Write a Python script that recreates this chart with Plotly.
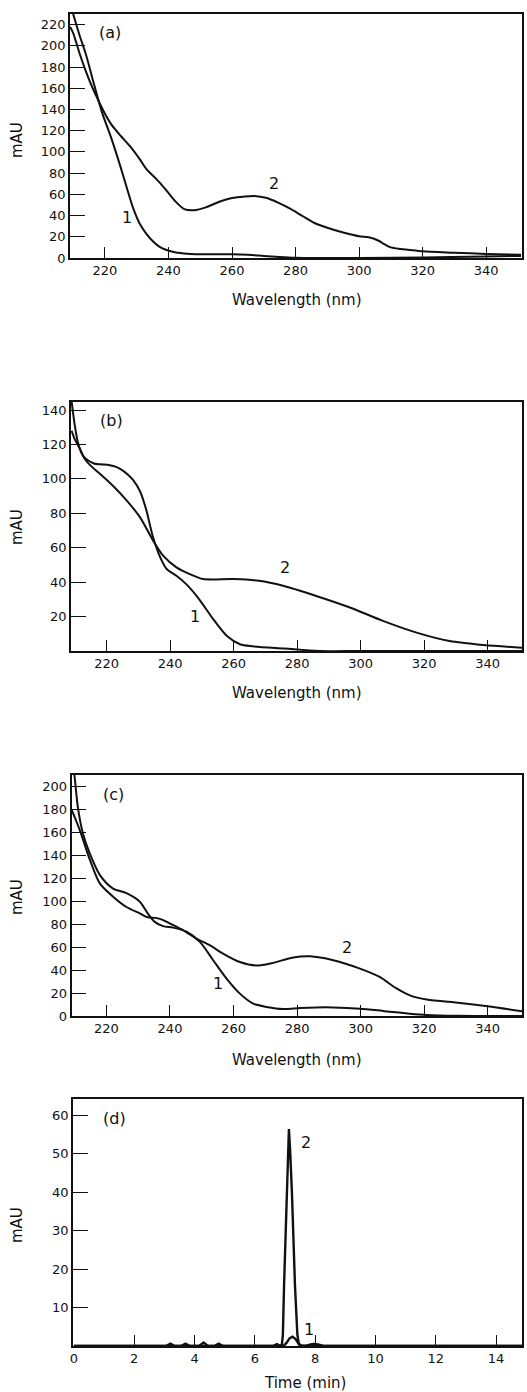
import plotly.graph_objects as go

# ---------------- data ----------------
# Panel (a)
a_wl_1 = [209, 210, 212, 214, 216, 219, 222, 225, 227, 229, 231, 233, 235, 237, 239, 242, 246, 250, 255, 260, 265, 270, 275, 280, 290, 300, 320, 340, 351]
a_mau_1 = [240, 230, 210, 192, 170, 138, 113, 85, 65, 46, 32, 23, 16, 11, 8, 5.5, 4, 3.5, 3.5, 3.5, 3, 2, 1, 0.3, 0, 0, 0.5, 1.5, 2]
a_wl_2 = [209, 210, 212, 214, 216, 218, 220, 222, 225, 228, 231, 233, 236, 239, 242, 245, 248, 252, 256, 260, 264, 267, 271, 275, 278, 282, 286, 290, 295, 300, 303, 306, 308, 310, 313, 316, 320, 330, 340, 351]
a_mau_2 = [218, 212, 193, 176, 161, 148, 136, 126, 115, 105, 93, 84, 75, 65, 54, 46, 45, 48, 53, 56.5, 58, 58.5, 56.5, 51.5, 47, 40, 33, 28.5, 24, 20.5, 19.5, 16.5, 13, 10, 8.5, 7.5, 6.3, 5, 3.8, 3]

# Panel (b)
b_wl_1 = [209, 210, 211, 212, 213, 214, 216, 218, 221, 223, 225, 227, 228.5, 230.5, 232.5, 234.5, 237, 239, 242, 245, 249, 253.5, 258, 262, 266, 276, 287, 300, 320, 340, 351]
b_mau_1 = [145, 131, 121, 115.5, 112.5, 111, 109, 108.5, 108, 107, 105, 102, 99, 93, 82, 67, 54, 47.5, 43.7, 39, 30.5, 18.7, 8.5, 3.9, 2.7, 1.4, 0, 0, 0, 0, 0]
b_wl_2 = [209, 210, 211.6, 213, 214.8, 217.9, 222, 226.3, 230.5, 234.7, 237.8, 242, 246.2, 250.4, 260, 268, 275.6, 286, 296.6, 307, 317.6, 328, 338.6, 351]
b_mau_2 = [128, 123, 117.6, 112, 108, 103, 96, 87.5, 77.8, 64, 55.4, 48.6, 44.7, 41.8, 41.8, 40.8, 37.9, 32, 25.3, 17.5, 10.7, 5.8, 3.5, 1.9]

# Panel (c)
c_wl_1 = [209, 210, 211, 212.6, 214.7, 217.9, 222.1, 226.3, 230.5, 233.1, 235.2, 237.8, 241, 245.2, 249.4, 253.6, 257.8, 262, 266.2, 270.4, 275.6, 280.9, 286, 291.4, 299.8, 307.1, 315.5, 320.8, 330, 351]
c_mau_1 = [230, 208, 182, 159, 142, 123, 111, 107, 99.6, 89, 82, 78.3, 77, 73.4, 64.6, 48.6, 32.6, 19.5, 10.8, 7.9, 6.1, 7, 7.5, 7.5, 6.4, 4.4, 2, 0.9, 0.2, 0]
c_wl_2 = [209, 211.6, 214.8, 217.9, 222.1, 226.3, 230.5, 233, 235.5, 237.5, 240, 244.1, 248.3, 252.5, 256.7, 262, 267.2, 272, 278.8, 284, 291.4, 299.8, 306, 311.3, 315.5, 320.8, 331.3, 340, 351]
c_mau_2 = [180, 162, 136, 115.6, 104, 95, 89.4, 86, 85.5, 84, 80.6, 74.8, 67.5, 61.7, 54.4, 47, 44, 46, 51, 52, 48.6, 41.3, 34, 24, 18, 14.3, 11.4, 8.4, 4]

# Panel (d)
d_t_1 = [0, 3.05, 3.2, 3.35, 3.55, 3.7, 3.85, 4.15, 4.3, 4.45, 4.65, 4.8, 4.95, 6.6, 6.73, 6.85, 6.95, 7.05, 7.15, 7.25, 7.35, 7.45, 7.55, 7.7, 7.85, 7.95, 8.1, 8.25, 8.4, 15]
d_mau_1 = [0, 0, 0.6, 0, 0, 0.6, 0, 0, 0.9, 0, 0, 0.6, 0, 0, 0.5, 0, 0, 0.8, 2.0, 2.4, 1.8, 0.6, 0.1, 0.1, 0.4, 0.5, 0.4, 0.1, 0, 0]
d_t_2 = [0, 6.85, 6.9, 6.93, 6.97, 7.06, 7.09, 7.13, 7.17, 7.23, 7.33, 7.41, 7.46, 7.5, 15]
d_mau_2 = [0, 0, 0.5, 3, 16, 40, 51, 56.5, 51, 40, 16, 3, 0.5, 0, 0]

wl_ticks = [220, 240, 260, 280, 300, 320, 340]
a_yticks = [0, 20, 40, 60, 80, 100, 120, 140, 160, 180, 200, 220]
b_yticks = [20, 40, 60, 80, 100, 120, 140]
c_yticks = [0, 20, 40, 60, 80, 100, 120, 140, 160, 180, 200]
d_xticks = [0, 2, 4, 6, 8, 10, 12, 14]
d_yticks = [10, 20, 30, 40, 50, 60]

# ---------------- figure ----------------
W, H = 527, 1392
FONT = "DejaVu Sans"
LC = "#111111"

def py(px):
    return 1 - px / H

fig = go.Figure()

panels = [
    dict(s1=(a_wl_1, a_mau_1), s2=(a_wl_2, a_mau_2), ax="", dx=(70, 522), dy=(14, 258), xr=[209, 351.3], yr=[0, 230], xt=wl_ticks, yt=a_yticks, lw=2.0, shape="spline"),
    dict(s1=(b_wl_1, b_mau_1), s2=(b_wl_2, b_mau_2), ax="2", dx=(71, 522), dy=(402, 651), xr=[208.8, 350.8], yr=[0, 144.7], xt=wl_ticks, yt=b_yticks, lw=2.0, shape="spline"),
    dict(s1=(c_wl_1, c_mau_1), s2=(c_wl_2, c_mau_2), ax="3", dx=(71.5, 522), dy=(775, 1016), xr=[209, 350.8], yr=[0, 210], xt=wl_ticks, yt=c_yticks, lw=2.0, shape="spline"),
    dict(s1=(d_t_1, d_mau_1), s2=(d_t_2, d_mau_2), ax="4", dx=(73, 522), dy=(1099, 1346), xr=[-0.03, 14.86], yr=[0, 64.3], xt=d_xticks, yt=d_yticks, lw=2.4, shape="linear"),
]

for p in panels:
    xa = "x" + p["ax"]
    ya = "y" + p["ax"]
    for (xs, ys) in (p["s1"], p["s2"]):
        fig.add_trace(go.Scatter(x=xs, y=ys, mode="lines", xaxis=xa, yaxis=ya,
                                 line=dict(color=LC, width=p["lw"], shape=p["shape"], smoothing=0.8),
                                 showlegend=False, hoverinfo="skip", cliponaxis=True))
    axis_common = dict(showgrid=False, zeroline=False, showline=True, linecolor=LC, linewidth=1.6,
                       mirror=True, ticks="inside", tickcolor=LC, tickwidth=1.4,
                       tickfont=dict(family=FONT, size=13, color=LC), automargin=False)
    fig.update_layout(**{
        "xaxis" + p["ax"]: dict(axis_common, domain=[p["dx"][0] / W, p["dx"][1] / W], range=p["xr"],
                                tickvals=p["xt"], ticklen=11, anchor=ya),
        "yaxis" + p["ax"]: dict(axis_common, domain=[py(p["dy"][1]), py(p["dy"][0])], range=p["yr"],
                                tickvals=p["yt"], ticklen=15, anchor=xa),
    })

annots = []
def ann(text, x, y, xref, yref, size=16, angle=0):
    annots.append(dict(text=text, x=x, y=y, xref=xref, yref=yref, showarrow=False,
                       font=dict(family=FONT, size=size, color=LC), textangle=angle,
                       xanchor="center", yanchor="middle"))

# panel letters and curve labels
ann("(a)", 221.6, 213, "x", "y")
ann("1", 226.8, 38, "x", "y")
ann("2", 273.2, 70, "x", "y")
ann("(b)", 221.6, 134, "x2", "y2")
ann("1", 247.8, 19.8, "x2", "y2")
ann("2", 276.2, 48.6, "x2", "y2")
ann("(c)", 222.1, 192.7, "x3", "y3")
ann("1", 255.2, 28, "x3", "y3")
ann("2", 295.6, 59.4, "x3", "y3")
ann("(d)", 1.36, 59.2, "x4", "y4")
ann("2", 7.7, 53, "x4", "y4")
ann("1", 7.81, 4.3, "x4", "y4")

# axis titles
for ypx in (300, 693, 1060):
    ann("Wavelength (nm)", 297 / W, py(ypx), "paper", "paper", size=15)
ann("Time (min)", 305 / W, py(1383), "paper", "paper", size=15)
for ypx in (140, 527, 897, 1225):
    ann("mAU", 17 / W, py(ypx), "paper", "paper", size=15, angle=-90)

fig.update_layout(width=W, height=H, margin=dict(l=0, r=0, t=0, b=0, autoexpand=False),
                  paper_bgcolor="white", plot_bgcolor="white", annotations=annots,
                  font=dict(family=FONT, color=LC))

fig.write_html("out.html", config={"displayModeBar": False},
               post_script="document.body.style.margin='0';document.body.style.padding='0';document.body.style.overflow='hidden';")
